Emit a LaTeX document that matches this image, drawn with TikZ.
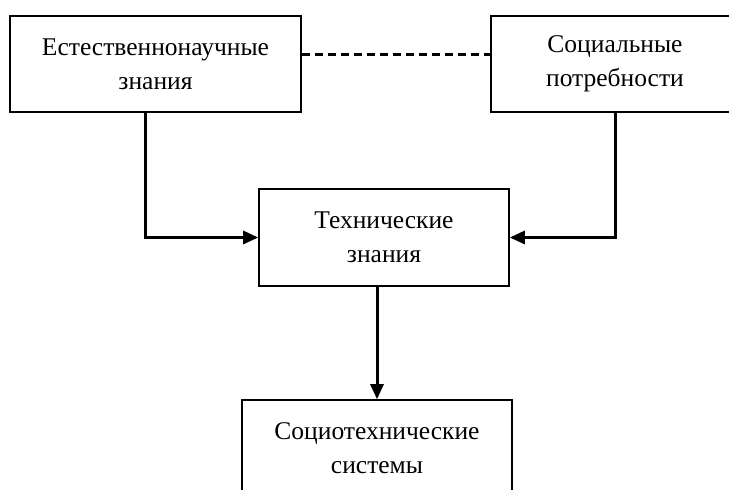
\documentclass[tikz,border=0pt]{standalone}
\usepackage{fontspec}
\setmainfont{Liberation Serif}
\usetikzlibrary{arrows.meta}

\tikzset{
  block/.style={draw, line width=1.6pt, align=center, inner sep=0pt,
    font=\fontsize{25.5}{34}\selectfont},
  link/.style={line width=3pt, -{Triangle[length=15pt,width=13pt]}},
  dashlink/.style={line width=3pt, dash pattern=on 8pt off 5pt},
}

\begin{document}
\begin{tikzpicture}[x=1pt,y=-1pt]
  \useasboundingbox (0,0) rectangle (729,490);
  \clip (0,0) rectangle (729,490);
  \node[block, minimum width=291pt, minimum height=96pt] (nat) at (155.5,64) {Естественнонаучные\\знания};
  \node[block, minimum width=248pt, minimum height=96pt] (soc) at (615,64) {Социальные\\потребности};
  \node[block, minimum width=250pt, minimum height=97pt] (tech) at (384,237.5) {Технические\\знания};
  \node[block, minimum width=270pt, minimum height=97pt] (sys) at (377,448.5) {Социотехнические\\системы};
  \draw[dashlink] ([yshift=10pt]nat.east) -- ([yshift=10pt]soc.west);
  \draw[link] ([xshift=-10pt]nat.south) |- (tech);
  \draw[link] (soc) |- (tech);
  \draw[link] (sys.north |- tech.south) -- (sys.north);
\end{tikzpicture}
\end{document}
